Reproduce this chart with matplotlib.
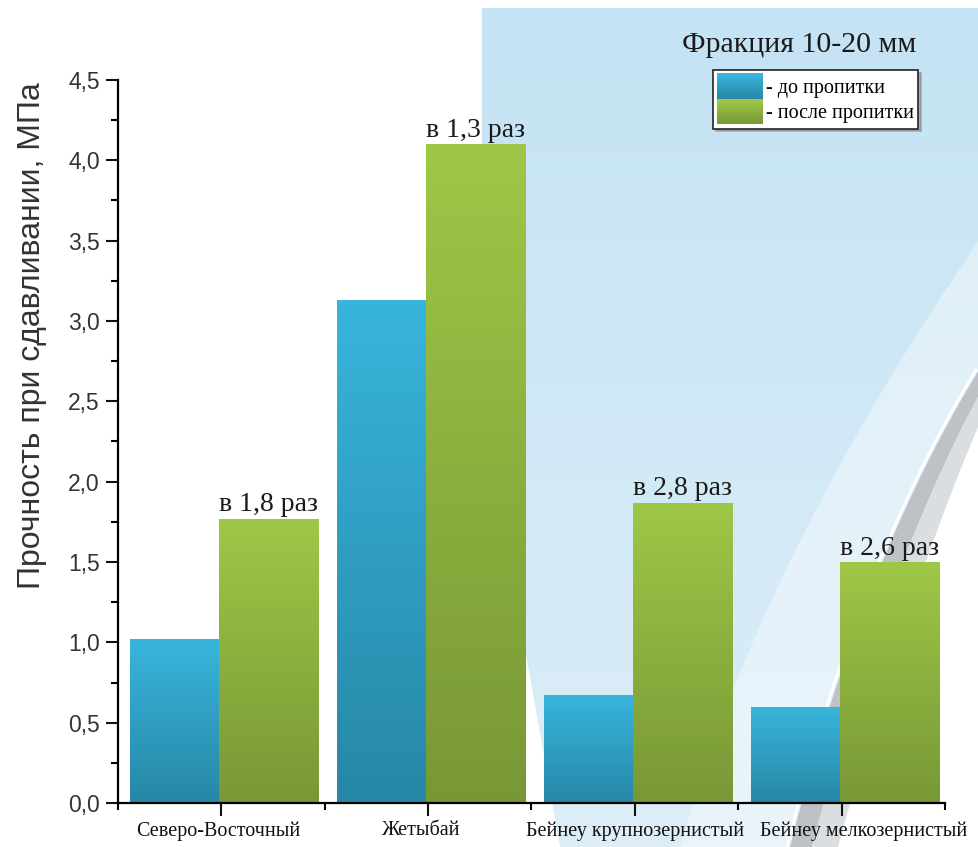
import numpy as np
import matplotlib.pyplot as plt
import matplotlib.transforms as mtransforms
from matplotlib.colors import LinearSegmentedColormap, to_rgb
from matplotlib.patches import Rectangle, Polygon
from matplotlib.legend_handler import HandlerBase

categories = ['Северо-Восточный', 'Жетыбай', 'Бейнеу крупнозернистый', 'Бейнеу мелкозернистый']
before = [1.02, 3.13, 0.67, 0.60]
after = [1.77, 4.10, 1.87, 1.50]
ratio_labels = ['в 1,8 раз', 'в 1,3 раз', 'в 2,8 раз', 'в 2,6 раз']
yticks = [0.0, 0.5, 1.0, 1.5, 2.0, 2.5, 3.0, 3.5, 4.0, 4.5]
ytick_labels = ['0,0', '0,5', '1,0', '1,5', '2,0', '2,5', '3,0', '3,5', '4,0', '4,5']
series_names = ['- до пропитки', '- после пропитки']

blue_top, blue_bot = '#38b5dc', '#2787a6'
green_top, green_bot = '#9fc747', '#789836'

W, H = 979, 847
fig = plt.figure(figsize=(W / 100, H / 100), dpi=100)
fig.patch.set_facecolor('white')

# decorative background (slide template)
bg = fig.add_axes([0, 0, 1, 1], zorder=-5)
bg.axis('off')


def bez(p0, c, p1, n=40):
    t = np.linspace(0, 1, n)[:, None]
    return (1 - t) ** 2 * np.array(p0) + 2 * (1 - t) * t * np.array(c) + t ** 2 * np.array(p1)


left_edge = bez((560, 847), (510, 560), (482, 420))
blue_poly = np.vstack([[[482, 8], [W, 8], [W, H]], left_edge])
blue_patch = Polygon(blue_poly, closed=True, lw=0, fc='none')
bg.add_patch(blue_patch)
g = np.linspace(0, 1, 256).reshape(-1, 1)
cm_bg = LinearSegmentedColormap.from_list('bg', ['#c4e3f4', '#ddeef8'])
im = bg.imshow(g, extent=[0, W, H, 0], cmap=cm_bg, aspect='auto', origin='upper', zorder=0)
im.set_clip_path(blue_patch)
bg.set_xlim(0, W)
bg.set_ylim(H, 0)

soft = bez((680, 847), (760, 560), (979, 240))
outer = bez((790, 847), (862, 560), (979, 370))
mid = bez((812, 847), (885, 570), (979, 395))
inner = bez((838, 847), (910, 585), (979, 425))
bg.add_patch(Polygon(np.vstack([soft, outer[::-1]]), closed=True, lw=0, fc='white', alpha=0.4, zorder=1))
bg.add_patch(Polygon(np.vstack([outer, [[W, 370], [W, H]]]), closed=True, lw=0, fc='white', zorder=1))
bg.add_patch(Polygon(np.vstack([outer, mid[::-1]]), closed=True, lw=0, fc='#b3b8bd', alpha=0.85, zorder=2))
bg.add_patch(Polygon(np.vstack([mid, inner[::-1]]), closed=True, lw=0, fc='#d3d6d9', alpha=0.8, zorder=2))
bg.plot(outer[:, 0] - 3, outer[:, 1], color='white', lw=2, zorder=3)

ax = fig.add_axes([118 / W, 1 - 803 / H, (945 - 118) / W, (803 - 80) / H])
ax.patch.set_alpha(0)

x = np.arange(len(categories))
b1 = ax.bar(x - 0.225, before, width=0.43, color=blue_top, lw=0, zorder=2)
b2 = ax.bar(x + 0.23, after, width=0.48, color=green_top, lw=0, zorder=2)


def grad_fill(bars, c_top, c_bot):
    cmap = LinearSegmentedColormap.from_list('g', [c_bot, c_top])
    for b in bars:
        x0, y0 = b.get_xy()
        gi = ax.imshow(g, extent=[x0, x0 + b.get_width(), y0, y0 + b.get_height()],
                       origin='lower', aspect='auto', cmap=cmap, zorder=3)
        gi.set_clip_path(b)


grad_fill(b1, blue_top, blue_bot)
grad_fill(b2, green_top, green_bot)

for i in range(len(categories)):
    ax.annotate(ratio_labels[i], (x[i] + 0.23, after[i]), xytext=(0, 1), textcoords='offset points',
                ha='center', va='bottom', fontsize=20, family='Liberation Serif', color='#1a1a1a', zorder=5)

ax.set_xlim(-0.5, 3.5)
ax.set_ylim(0, 4.5)
ax.set_xticks(x)
ax.set_xticklabels(categories, family='Liberation Serif', fontsize=14.5, color='#1a1a1a')
ax.set_xticks(np.arange(-0.5, 4.0, 1.0), minor=True)
ax.set_yticks(yticks)
ax.set_yticklabels(ytick_labels, family='Liberation Sans', fontsize=16.5, color='#333333')
ax.set_yticks(np.arange(0.25, 4.5, 0.5), minor=True)
ax.tick_params(axis='both', which='major', length=9, width=1.5, direction='out', pad=4, colors='#111111')
ax.tick_params(axis='both', which='minor', length=5, width=1.5, direction='out')
for lab in ax.get_yticklabels():
    lab.set_color('#333333')
for s in ['top', 'right']:
    ax.spines[s].set_visible(False)
for s in ['left', 'bottom']:
    ax.spines[s].set_linewidth(1.6)
    ax.spines[s].set_zorder(4)

# small horizontal offsets of the category labels as in the original
xlabs = ax.get_xticklabels()
for lab, dx in zip(xlabs, [-3, -7, 0, 22]):
    lab.set_transform(lab.get_transform() + mtransforms.ScaledTranslation(dx / 100, 0, fig.dpi_scale_trans))

ax.set_ylabel('Прочность при сдавливании, МПа', family='Liberation Sans', fontsize=23,
              color='#333333', va='center')
ax.yaxis.set_label_coords(-0.104, 0.647)

fig.text(799 / W, 1 - 45 / H, 'Фракция 10-20 мм', ha='center', va='center',
         fontsize=21.5, family='Liberation Serif', color='#1a1a1a')


class GradHandler(HandlerBase):
    def __init__(self, c_top, c_bot):
        super().__init__()
        self.c_top, self.c_bot = np.array(to_rgb(c_top)), np.array(to_rgb(c_bot))

    def create_artists(self, legend, orig_handle, xdescent, ydescent, width, height, fontsize, trans):
        n = 16
        arts = []
        for k in range(n):
            col = self.c_bot + (self.c_top - self.c_bot) * k / (n - 1)
            arts.append(Rectangle((-xdescent, -ydescent + height * k / n), width, height / n + 0.5,
                                  fc=col, lw=0, transform=trans))
        return arts


h1 = Rectangle((0, 0), 1, 1)
h2 = Rectangle((0, 0), 1, 1)
leg = fig.legend([h1, h2], series_names, loc='upper left', bbox_to_anchor=(713 / W, 1 - 70 / H),
                 handler_map={h1: GradHandler(blue_top, blue_bot), h2: GradHandler(green_top, green_bot)},
                 prop={'family': 'Liberation Serif', 'size': 14.5}, frameon=True, fancybox=False,
                 edgecolor='#222222', framealpha=1, borderaxespad=0, borderpad=0.2,
                 handlelength=2.3, handleheight=1.55, labelspacing=0.0, handletextpad=0.15,
                 shadow={'color': '#888888', 'alpha': 0.6})
leg.get_frame().set_linewidth(1.2)

fig.savefig('out.png', dpi=100)
